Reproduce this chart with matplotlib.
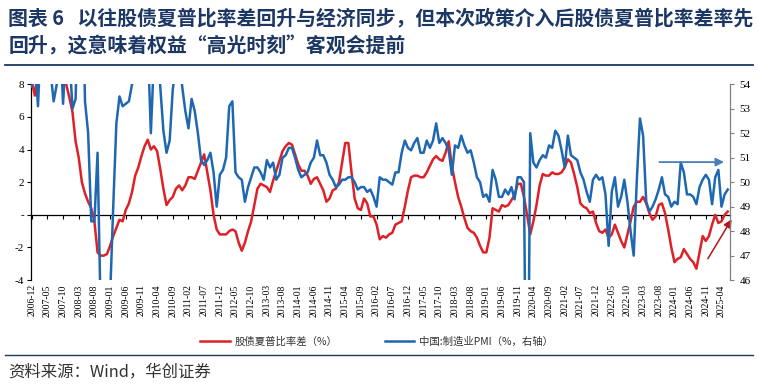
import matplotlib
matplotlib.use("Agg")
import matplotlib.pyplot as plt
import pandas as pd
from matplotlib.lines import Line2D

plt.rcParams['font.family'] = ['Noto Sans CJK SC', 'DejaVu Sans']

# monthly, 2006-12 .. 2025-06
months = pd.period_range("2006-12", periods=223, freq="M")

# 股债夏普比率差 (%), left axis (values above 8 are clipped in the original)
sharpe_gap = [
    8.2, 7.3, 9.0, 10.0, 10.5, 11.0, 11.0, 10.5, 10.0, 9.5, 8.8, 8.0, 7.2,   # 2006-12..2007-12
    6.3, 4.5, 3.5, 2.0, 1.3, 0.8, 0.4, -0.4, -2.3, -2.5, -2.5, -2.4,        # 2008
    -1.9, -1.3, -0.8, -0.3, -0.4, 0.3, 0.7, 1.4, 2.4, 2.9, 3.6, 4.2,        # 2009
    4.6, 4.0, 4.2, 3.9, 2.8, 1.6, 0.6, 0.9, 1.1, 1.6, 1.8, 1.5,             # 2010
    1.8, 2.3, 2.3, 2.2, 2.7, 3.2, 3.7, 2.6, 1.5, 0.0, -0.9, -1.2,           # 2011
    -1.2, -1.2, -1.0, -0.9, -1.0, -1.7, -2.2, -1.7, -1.0, -0.4, 0.6, 1.6,  # 2012
    1.9, 1.8, 1.7, 1.4, 2.1, 2.7, 3.3, 3.9, 4.2, 4.4, 4.3, 3.7,             # 2013
    3.1, 2.7, 2.7, 2.4, 1.9, 2.2, 2.3, 1.9, 1.5, 0.8, 1.0, 1.5,             # 2014
    1.6, 2.0, 3.2, 4.4, 4.4, 2.6, 1.0, 0.4, 0.3, 1.0, 0.7, -0.1,            # 2015
    -0.1, -0.6, -1.5, -1.3, -1.4, -1.2, -1.1, -0.6, -0.5, -0.4, 0.5, 1.5,  # 2016
    2.3, 2.4, 2.4, 2.3, 2.3, 2.6, 3.0, 3.4, 3.6, 3.4, 3.3, 3.8,             # 2017
    4.5, 3.0, 2.0, 1.1, 0.5, -0.2, -0.8, -1.0, -1.1, -1.4, -1.9, -2.3,     # 2018
    -2.3, -1.4, 0.4, 0.3, 0.2, 0.6, 0.5, 0.6, 0.9, 1.2, 1.9, 1.9,          # 2019
    1.1, 0.0, -1.2, -0.4, 0.6, 1.8, 2.5, 2.4, 2.4, 2.6, 2.5, 2.5,          # 2020
    2.6, 2.9, 3.4, 3.2, 2.5, 1.7, 0.7, 0.5, 0.4, 0.1, 0.2, -0.5,           # 2021
    -1.0, -1.1, -0.9, -1.4, -1.2, -0.6, -1.1, -1.6, -2.0, -1.2, -0.4, 0.5, # 2022
    0.8, 0.8, 1.1, 0.7, 0.1, -0.3, -0.1, 0.6, 0.7, 0.1, -0.9, -2.0,        # 2023
    -2.9, -2.7, -2.6, -2.1, -2.4, -2.7, -2.9, -3.3, -2.3, -1.3, -1.6, -1.3, # 2024
    -0.6, 0.0, -0.5, -0.4, 0.0, 0.2,                                        # 2025-01..06
]

# 中国:制造业PMI (%), right axis
pmi = [
    53.9,
    55.1, 53.1, 56.1, 58.6, 55.8, 54.5, 53.3, 54.0, 56.1, 53.2, 55.4, 55.3,
    53.0, 53.4, 58.4, 59.2, 53.3, 52.0, 48.4, 48.4, 51.2, 44.6, 38.8, 41.2,
    45.3, 49.0, 52.4, 53.5, 53.1, 53.2, 53.3, 54.0, 54.3, 55.2, 55.2, 56.6,
    55.8, 52.0, 55.1, 55.7, 53.9, 52.1, 51.2, 51.7, 53.8, 54.7, 55.2, 53.9,
    52.9, 52.2, 53.4, 52.9, 52.0, 50.9, 50.7, 50.9, 51.2, 50.4, 49.0, 50.3,
    50.5, 51.0, 53.1, 53.3, 50.4, 50.2, 50.1, 49.2, 49.8, 50.2, 50.6, 50.6,
    50.4, 50.1, 50.9, 50.6, 50.8, 50.1, 50.3, 51.0, 51.1, 51.4, 51.4, 51.0,
    50.5, 50.2, 50.3, 50.4, 50.8, 51.0, 51.7, 51.1, 51.1, 50.8, 50.3, 50.1,
    49.8, 49.9, 50.1, 50.1, 50.2, 50.2, 50.0, 49.7, 49.8, 49.8, 49.6, 49.7,
    49.4, 49.0, 50.2, 50.1, 50.1, 50.0, 49.9, 50.4, 50.4, 51.2, 51.7, 51.4,
    51.3, 51.6, 51.8, 51.2, 51.2, 51.7, 51.4, 51.7, 52.4, 51.6, 51.8, 51.6,
    51.3, 50.3, 51.5, 51.4, 51.9, 51.5, 51.2, 51.3, 50.8, 50.2, 50.0, 49.4,
    49.5, 49.2, 50.5, 50.1, 49.4, 49.4, 49.7, 49.5, 49.8, 49.3, 50.2, 50.2,
    50.0, 35.7, 52.0, 50.8, 50.6, 50.9, 51.1, 51.0, 51.5, 51.4, 52.1, 51.9,
    51.3, 50.6, 51.9, 51.1, 51.0, 50.9, 50.4, 50.1, 49.6, 49.2, 50.1, 50.3,
    50.1, 50.2, 49.5, 47.4, 49.6, 50.2, 49.0, 49.4, 50.1, 49.2, 48.0, 47.0,
    50.1, 52.6, 51.9, 49.2, 48.8, 49.0, 49.3, 49.7, 50.2, 49.5, 49.4, 49.0,
    49.2, 49.1, 50.8, 50.4, 49.5, 49.5, 49.4, 49.1, 49.8, 50.1, 50.3, 50.1,
    49.1, 50.2, 50.5, 49.0, 49.5, 49.7,
]

left_ticks = [8, 6, 4, 2, 0, -2, -4]
left_labels = ["8", "6", "4", "2", "-", "-2", "-4"]
right_ticks = [46, 47, 48, 49, 50, 51, 52, 53, 54]

title1 = "图表 6   以往股债夏普比率差回升与经济同步，但本次政策介入后股债夏普比率差率先"
title2 = "回升，这意味着权益“高光时刻”客观会提前"
source = "资料来源：Wind，华创证券"
label_red = "股债夏普比率差（%）"
label_blue = "中国:制造业PMI（%，右轴）"

RED = "#dd2127"
BLUE = "#1f68b1"
NAVY = "#1c3763"
SERIF = "Liberation Serif"

x = list(range(len(months)))

fig = plt.figure(figsize=(7.58, 3.88), dpi=100)
ax = fig.add_axes([0.041, 0.278, 0.922, 0.505])
ax.plot(x, sharpe_gap, color=RED, lw=1.8, zorder=3)
ax.set_xlim(-0.2, 222.7)
ax.set_ylim(-4, 8)
ax.set_yticks(left_ticks, left_labels, fontfamily=SERIF, fontsize=8)
ax.tick_params(axis="y", direction="out", length=3, width=0.8, pad=2)
for s in ("top", "right"):
    ax.spines[s].set_visible(False)
ax.spines["left"].set_linewidth(0.9)
ax.spines["bottom"].set_position(("data", 0))
ax.spines["bottom"].set_linewidth(0.9)
tick_pos = x[::5]
ax.set_xticks(tick_pos)
ax.tick_params(axis="x", direction="out", length=3, width=0.8, labelbottom=False)

sec = ax.secondary_xaxis("bottom")
sec.set_xticks(tick_pos, [months[i].strftime("%Y-%m") for i in tick_pos],
               rotation=90, fontfamily=SERIF, fontsize=7)
sec.tick_params(length=0, pad=3)
sec.spines["bottom"].set_visible(False)

ax2 = ax.twinx()
ax2.plot(x, pmi, color=BLUE, lw=1.8)
ax2.set_ylim(46, 54)
ax2.set_yticks(right_ticks, [str(t) for t in right_ticks], fontfamily=SERIF, fontsize=8)
ax2.tick_params(axis="y", direction="out", length=3, width=0.8, color="#808080", pad=4)
for s in ("top", "left", "bottom"):
    ax2.spines[s].set_visible(False)
ax2.spines["right"].set_color("#808080")
ax2.spines["right"].set_linewidth(0.9)

# annotation arrows
ax2.annotate("", xy=(221.7, 50.82), xytext=(199.3, 50.82),
             arrowprops=dict(arrowstyle="-|>", color="#4a7ebb", lw=1.3,
                             mutation_scale=12), annotation_clip=False)
ax.annotate("", xy=(223.7, -0.13), xytext=(215.2, -2.83),
            arrowprops=dict(arrowstyle="-|>", color="#b01818", lw=1.1,
                            mutation_scale=12), annotation_clip=False)

handles = [Line2D([], [], color=RED, lw=1.8), Line2D([], [], color=BLUE, lw=1.8)]
fig.legend(handles, [label_red, label_blue], loc="center", ncol=2,
           bbox_to_anchor=(0.497, 0.119), frameon=False, fontsize=7.5,
           handlelength=2.8, columnspacing=4.5, handletextpad=0.5,
           labelcolor="#333333")

fig.text(0.011, 0.955, title1, fontsize=14.3, color=NAVY, weight="bold", va="center")
fig.text(0.011, 0.881, title2, fontsize=14.3, color=NAVY, weight="bold", va="center")
fig.add_artist(Line2D([0.007, 0.993], [0.832, 0.832], color=NAVY, lw=1.3))
fig.add_artist(Line2D([0.007, 0.993], [0.085, 0.085], color=NAVY, lw=1.0))
fig.text(0.011, 0.041, source, fontsize=11.8, color="#333333", style="italic",
         va="center")

fig.savefig("out.png", dpi=100)
